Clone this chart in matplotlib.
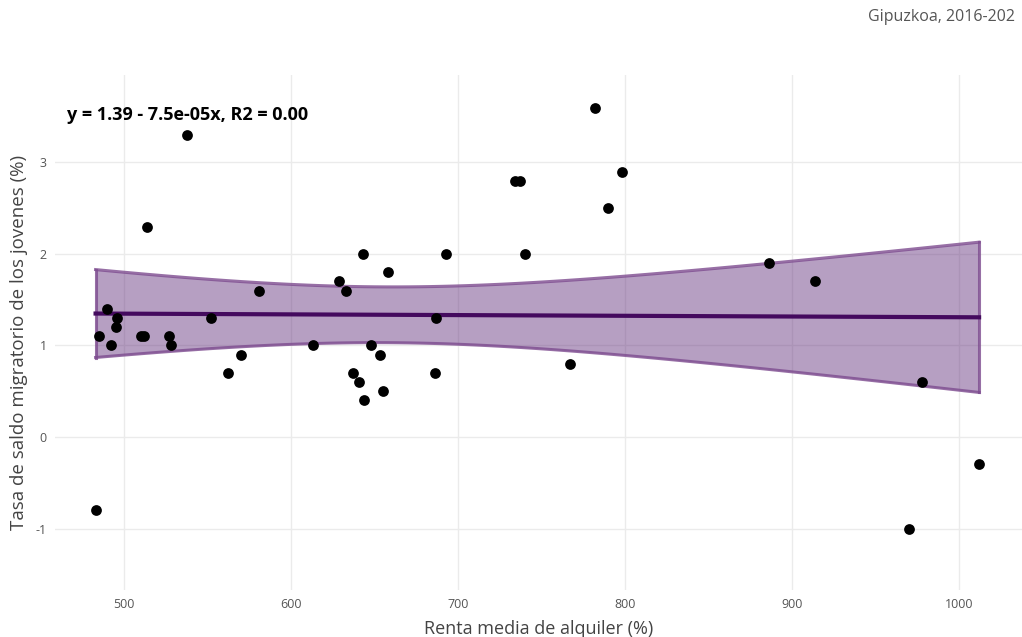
import numpy as np
import matplotlib
matplotlib.use("Agg")
import matplotlib.pyplot as plt

plt.rcParams['font.family'] = ['Open Sans', 'DejaVu Sans']

# Data
renta = [483, 485, 490, 492, 495, 496, 510, 512, 514, 527, 528, 538, 552, 562, 570, 581,
         613, 629, 633, 637, 641, 643, 644, 648, 653, 655, 658, 686, 687, 693,
         734, 737, 740, 767, 782, 790, 798, 886, 914, 970, 978, 1012]
saldo = [-0.8, 1.1, 1.4, 1.0, 1.2, 1.3, 1.1, 1.1, 2.3, 1.1, 1.0, 3.3, 1.3, 0.7, 0.9, 1.6,
         1.0, 1.7, 1.6, 0.7, 0.6, 2.0, 0.4, 1.0, 0.9, 0.5, 1.8, 0.7, 1.3, 2.0,
         2.8, 2.8, 2.0, 0.8, 3.6, 2.5, 2.9, 1.9, 1.7, -1.0, 0.6, -0.3]
equation = "y = 1.39 - 7.5e-05x, R2 = 0.00"
caption = "Gipuzkoa, 2016-202"
x_ticks = [500, 600, 700, 800, 900, 1000]
y_ticks = [-1, 0, 1, 2, 3]

x = np.array(renta, float)
y = np.array(saldo, float)
n = len(x)
b, a = np.polyfit(x, y, 1)
xs = np.linspace(x.min(), x.max(), 80)
ys = a + b * xs
resid = y - (a + b * x)
s = np.sqrt(np.sum(resid**2) / (n - 2))
se = s * np.sqrt(1 / n + (xs - x.mean())**2 / np.sum((x - x.mean())**2))
tval = 2.021
lo, hi = ys - tval * se, ys + tval * se

W, H = 1022, 637
fig = plt.figure(figsize=(W / 100, H / 100), dpi=100)
ax = fig.add_axes([55 / W, (H - 590) / H, (W - 55) / W, (590 - 75) / H])

edge = dict(color='#7d4b8f', lw=2.2, alpha=0.8, zorder=3)
ax.fill_between(xs, lo, hi, color='#5e2a78', alpha=0.45, linewidth=0, zorder=2)
ax.plot(xs, lo, **edge)
ax.plot(xs, hi, **edge)
ax.plot([xs[0], xs[0]], [lo[0], hi[0]], **edge)
ax.plot([xs[-1], xs[-1]], [lo[-1], hi[-1]], **edge)
ax.plot(xs, ys, color='#440a5e', lw=3, zorder=4)
ax.scatter(x, y, s=60, color='black', zorder=5, linewidths=0)

ax.text(466, 3.52, equation, fontsize=13, fontweight='bold', ha='left', va='center',
        color='black', zorder=6)

ax.set_xlim(458.7, 1037.7)
ax.set_ylim(-1.672, 3.956)
ax.set_xticks(x_ticks)
ax.set_yticks(y_ticks)
ax.set_xticklabels([str(v) for v in x_ticks])
ax.set_yticklabels([str(v) for v in y_ticks])
ax.tick_params(length=0, labelsize=9, labelcolor='#555555', pad=6)
ax.grid(True, color='#ebebeb', lw=1)
ax.set_axisbelow(True)
for sp in ax.spines.values():
    sp.set_visible(False)
ax.set_xlabel("Renta media de alquiler (%)", fontsize=13, color='#444444', labelpad=6)
ax.set_ylabel("Tasa de saldo migratorio de los jovenes (%)", fontsize=13.5, color='#444444')
ax.yaxis.set_label_coords(-0.028, 0.48)

fig.text(868 / W, 1 - 17 / H, caption, fontsize=11.5, color='#555555', ha='left', va='center')

fig.savefig("out.png", dpi=100)
